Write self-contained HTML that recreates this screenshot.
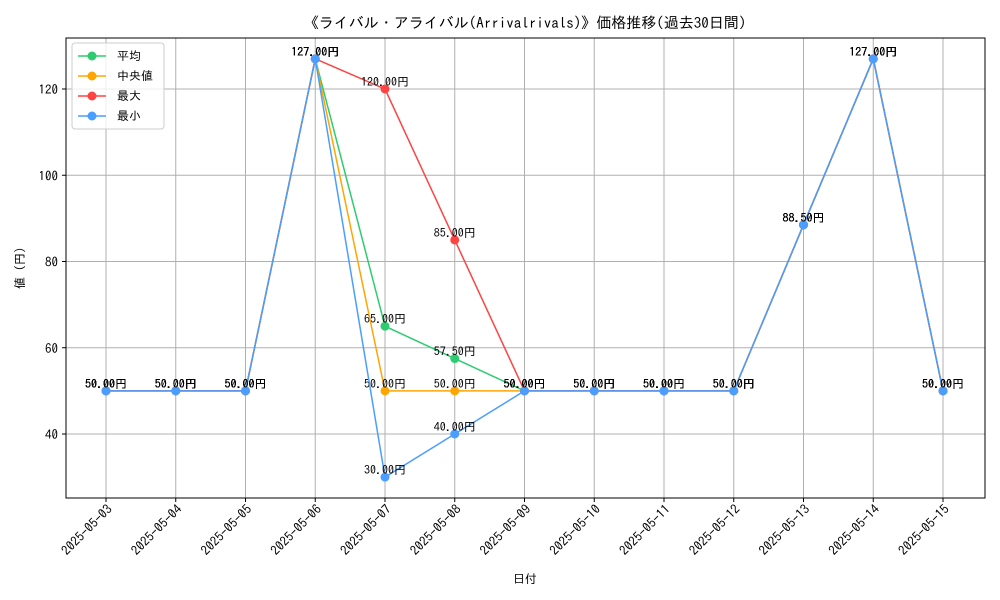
<!DOCTYPE html>
<html><head><meta charset="utf-8"><style>
body{margin:0;background:#fff;}
svg{display:block;font-family:"IPAGothic","Liberation Sans","Noto Sans CJK JP",sans-serif;}
</style></head><body>
<svg id="chart" width="1000" height="600"></svg>
<script>
const categories=["2025-05-03","2025-05-04","2025-05-05","2025-05-06","2025-05-07","2025-05-08","2025-05-09","2025-05-10","2025-05-11","2025-05-12","2025-05-13","2025-05-14","2025-05-15"];
const avgValues=[50,50,50,127,65,57.5,50,50,50,50,88.5,127,50];
const medianValues=[50,50,50,127,50,50,50,50,50,50,88.5,127,50];
const maxValues=[50,50,50,127,120,85,50,50,50,50,88.5,127,50];
const minValues=[50,50,50,127,30,40,50,50,50,50,88.5,127,50];
const yTicks=[40,60,80,100,120];
const seriesNames=["平均","中央値","最大","最小"];

const NS="http://www.w3.org/2000/svg";
const svg=document.getElementById('chart');
const L=66,R=985,T=38,B=498;
const x=i=>106+i*(943-106)/(categories.length-1);
const y=v=>434-(v-40)*(434-89)/80;
function el(tag,attrs,parent){const e=document.createElementNS(NS,tag);for(const k in attrs)e.setAttribute(k,attrs[k]);(parent||svg).appendChild(e);return e;}

categories.forEach((c,i)=>{const g=el('line',{x1:x(i),x2:x(i),y1:T,y2:B,stroke:'#b0b0b0','stroke-width':1});

});
yTicks.forEach(v=>{const g=el('line',{x1:L,x2:R,y1:y(v),y2:y(v),stroke:'#b0b0b0','stroke-width':1});

});
const frame=el('rect',{x:L,y:T,width:R-L,height:B-T,fill:'none',stroke:'#000','stroke-width':1});



yTicks.forEach(v=>{el('line',{x1:L-4,x2:L,y1:y(v),y2:y(v),stroke:'#000'});
const t=el('text',{x:L-8,y:y(v)+5,'text-anchor':'end','font-size':13});t.textContent=v;

});
categories.forEach((c,i)=>{el('line',{x1:x(i),x2:x(i),y1:B,y2:B+4,stroke:'#000'});
const t=el('text',{x:x(i)+7,y:B+12,'text-anchor':'end','font-size':13,transform:`rotate(-45 ${x(i)+7} ${B+12})`});t.textContent=c;

});

const title=el('text',{x:525,y:28,'text-anchor':'middle','font-size':15});title.textContent="《ライバル・アライバル(Arrivalrivals)》価格推移(過去30日間)";


const xt=el('text',{x:525,y:583,'text-anchor':'middle','font-size':12});xt.textContent="日付";


const yt=el('text',{x:24,y:268,'text-anchor':'middle','font-size':12,transform:'rotate(-90 24 268)'});yt.textContent="値 (円)";



const seriesData=[avgValues,medianValues,maxValues,minValues];
const colors=["#2ecc71","#ffa500","#ff4444","#4a9eff"];
seriesData.forEach((vals,s)=>{
  const g=el('g',{});
  
  
  const p=el('polyline',{points:vals.map((v,i)=>x(i)+','+y(v)).join(' '),fill:'none',stroke:colors[s],'stroke-width':1.5},g);
  
  
  vals.forEach((v,i)=>{
    const c=el('circle',{cx:x(i),cy:y(v),r:4.5,fill:colors[s]},g);
    
    
    const t=el('text',{x:x(i),y:y(v)-3,'text-anchor':'middle','font-size':12,fill:'#000'},g);
    t.textContent=v.toFixed(2)+"円";
    
    
  });
});

const lg=el('g',{});


el('rect',{x:72,y:43,width:92,height:86,fill:'#fff','fill-opacity':0.8,stroke:'#ccc',rx:3},lg);
seriesNames.forEach((n,s)=>{
  const yy=56+s*20;
  const e=el('g',{},lg);
  
  
  el('line',{x1:78,x2:106,y1:yy,y2:yy,stroke:colors[s],'stroke-width':1.5},e);
  el('circle',{cx:92,cy:yy,r:4.5,fill:colors[s]},e);
  const t=el('text',{x:117,y:yy+4,'font-size':12},e);t.textContent=n;
});
</script>
</body></html>
